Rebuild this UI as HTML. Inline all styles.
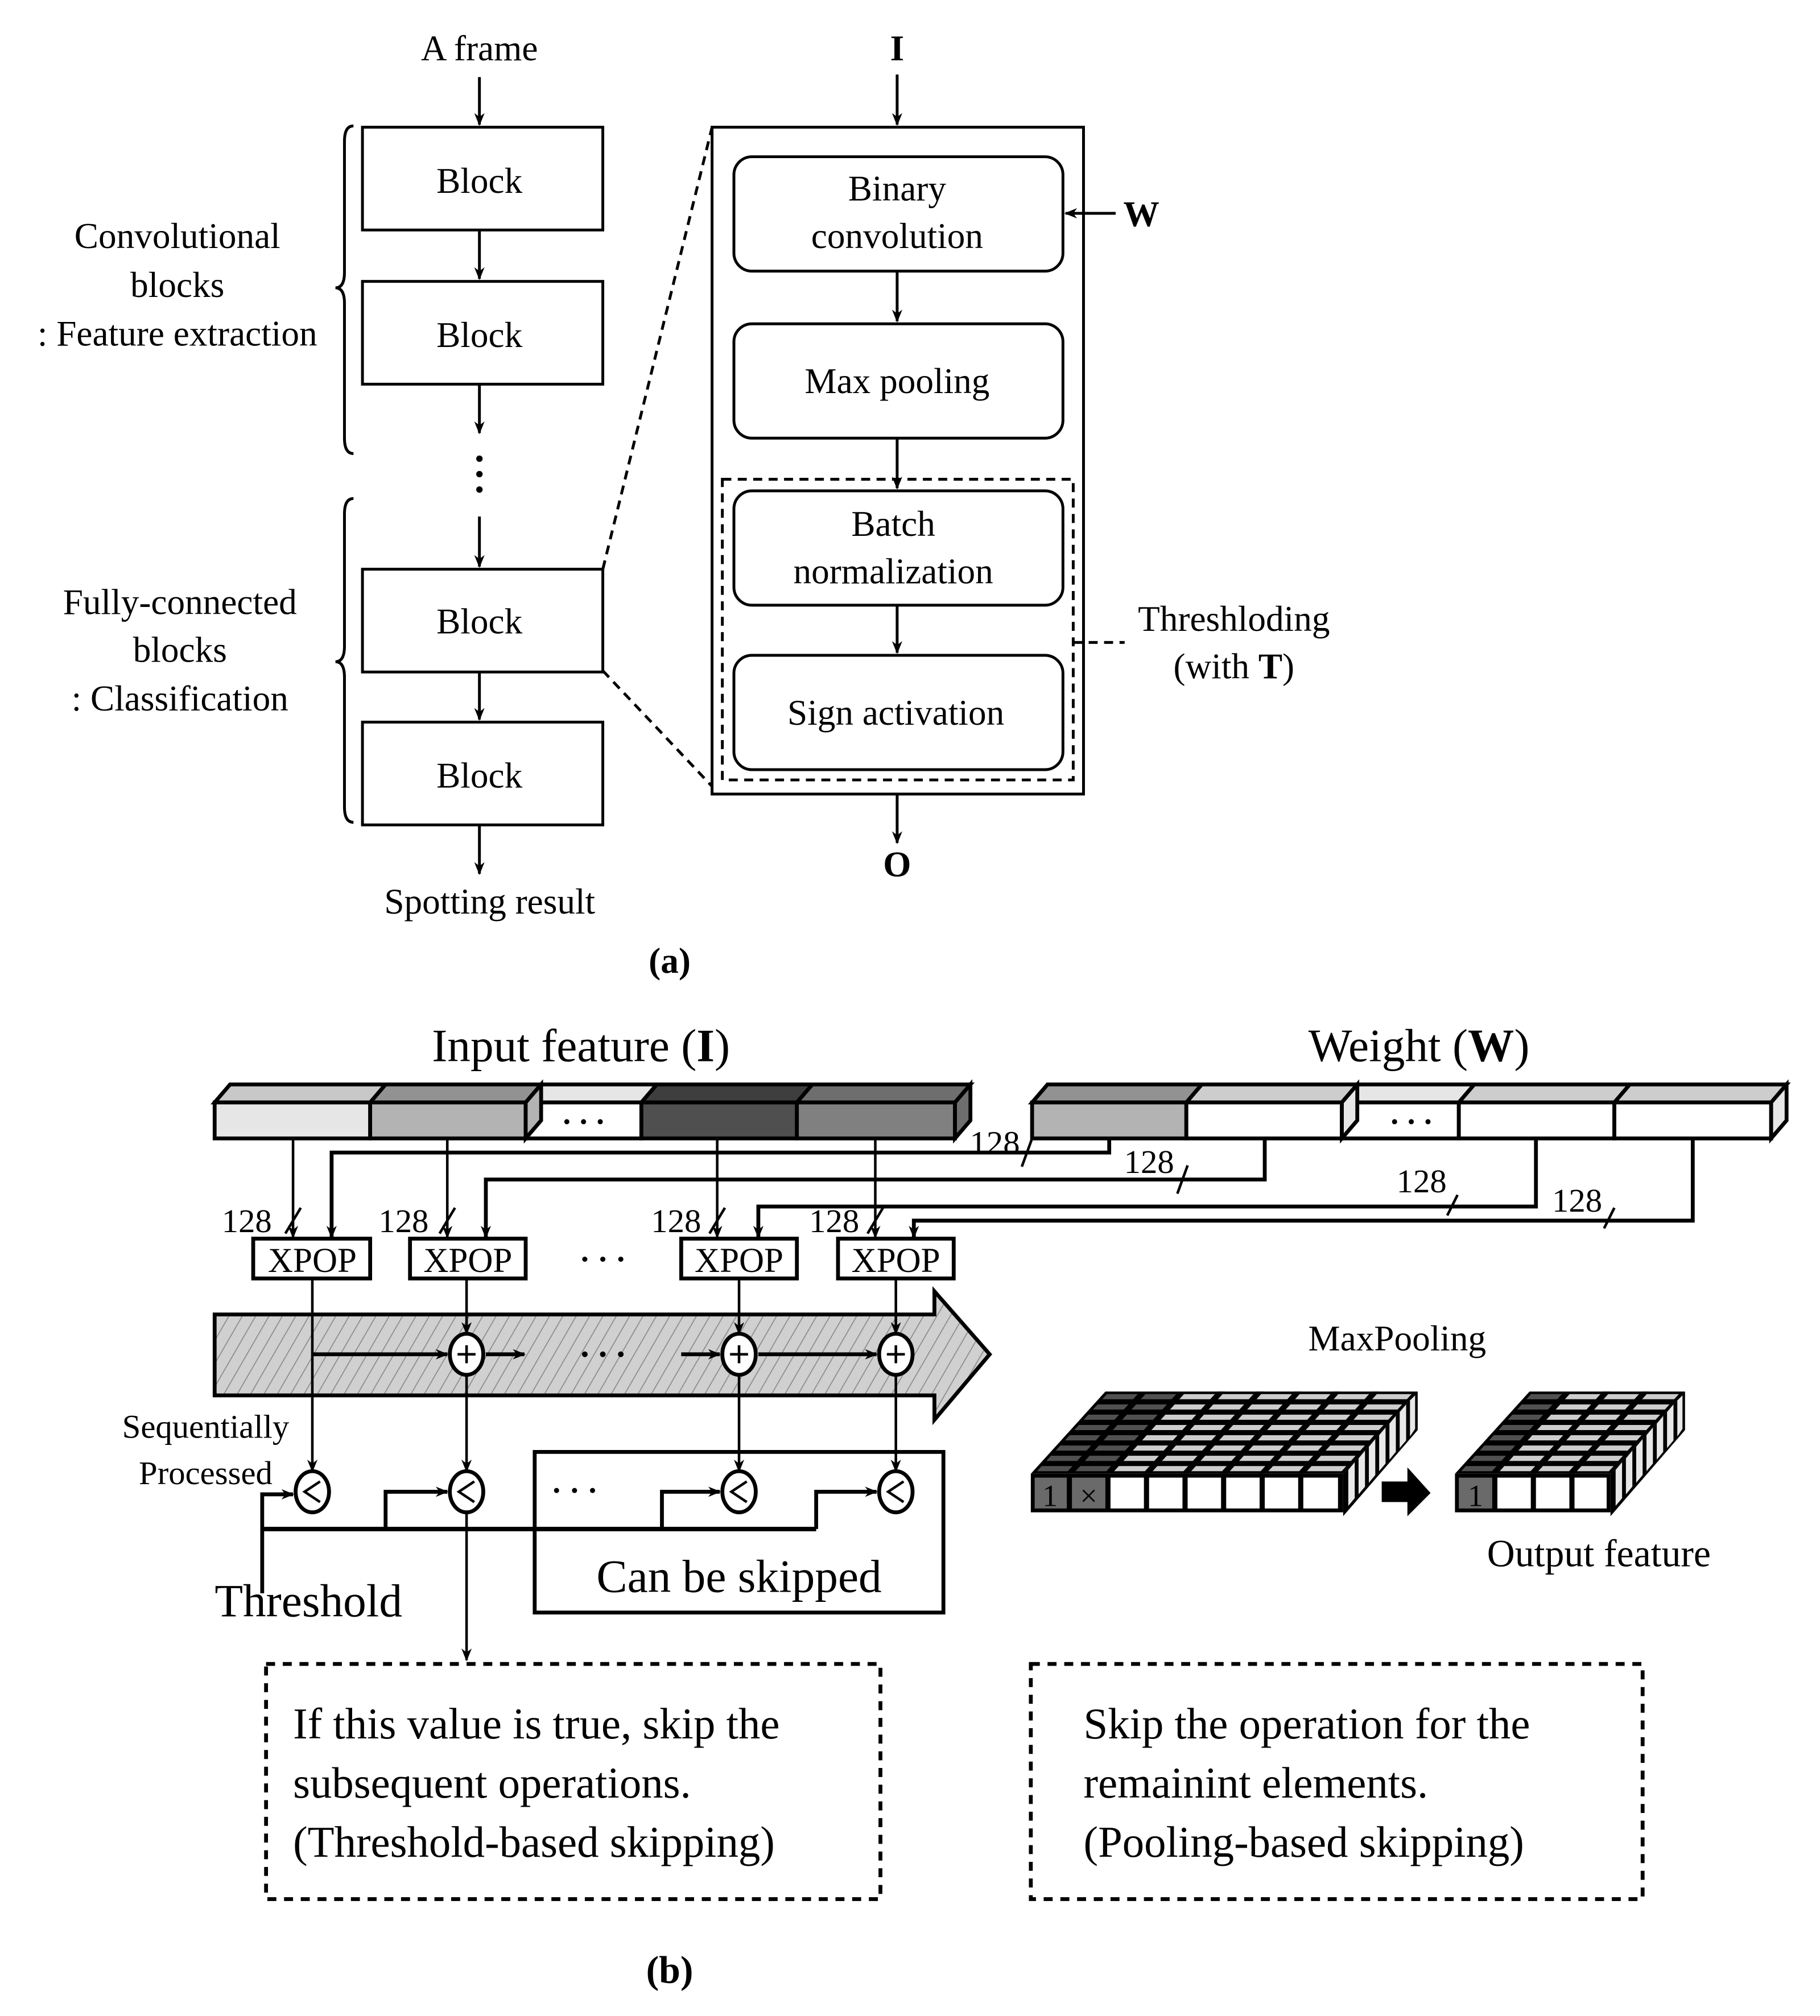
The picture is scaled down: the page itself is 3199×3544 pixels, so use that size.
<!DOCTYPE html>
<html><head><meta charset="utf-8"><style>
html,body{margin:0;padding:0;background:#fff;}
svg{display:block;}
text{font-family:"Liberation Serif",serif;fill:#000;}
</style></head><body>
<svg width="3199" height="3544" viewBox="0 0 1416 1569" preserveAspectRatio="none" xmlns="http://www.w3.org/2000/svg">
<defs>
<marker id="ar" markerWidth="10" markerHeight="10" refX="9" refY="5" orient="auto" markerUnits="userSpaceOnUse"><path d="M0,1 L10,5 L0,9 L3,5 Z" fill="#000"/></marker>
<pattern id="hatch" patternUnits="userSpaceOnUse" width="9" height="9" patternTransform="rotate(30)"><rect width="9" height="9" fill="#d0d0d0"/><line x1="0" y1="0" x2="0" y2="9" stroke="#8a8a8a" stroke-width="1.5"/></pattern>
</defs>
<g stroke="#000" fill="none" stroke-width="2.2">
<line x1="373" y1="60" x2="373" y2="97" marker-end="url(#ar)"/>
<rect x="282" y="99" width="187" height="80" fill="#fff"/>
<rect x="282" y="219" width="187" height="80" fill="#fff"/>
<rect x="282" y="443" width="187" height="80" fill="#fff"/>
<rect x="282" y="562" width="187" height="80" fill="#fff"/>
<line x1="373" y1="179" x2="373" y2="217" marker-end="url(#ar)"/>
<line x1="373" y1="299" x2="373" y2="337" marker-end="url(#ar)"/>
<line x1="373" y1="402" x2="373" y2="441" marker-end="url(#ar)"/>
<line x1="373" y1="523" x2="373" y2="560" marker-end="url(#ar)"/>
<line x1="373" y1="642" x2="373" y2="680" marker-end="url(#ar)"/>
<path d="M275,98 Q268,98 268,110 L268,212 Q268,224 261,224 Q268,224 268,236 L268,341 Q268,353 275,353"/>
<path d="M275,388 Q268,388 268,400 L268,503 Q268,515 261,515 Q268,515 268,527 L268,628 Q268,640 275,640"/>
<line x1="698" y1="58" x2="698" y2="97" marker-end="url(#ar)"/>
<rect x="554" y="99" width="289" height="519"/>
<rect x="571" y="122" width="256" height="89" rx="14"/>
<rect x="571" y="252" width="256" height="89" rx="14"/>
<rect x="571" y="382" width="256" height="89" rx="14"/>
<rect x="571" y="510" width="256" height="89" rx="14"/>
<rect x="562" y="373" width="273" height="234" stroke-dasharray="7,5"/>
<line x1="698" y1="211" x2="698" y2="250" marker-end="url(#ar)"/>
<line x1="698" y1="341" x2="698" y2="380" marker-end="url(#ar)"/>
<line x1="698" y1="471" x2="698" y2="508" marker-end="url(#ar)"/>
<line x1="698" y1="618" x2="698" y2="656" marker-end="url(#ar)"/>
<line x1="868" y1="166" x2="829" y2="166" marker-end="url(#ar)"/>
<line x1="835" y1="500" x2="875" y2="500" stroke-dasharray="7,5"/>
<line x1="469" y1="443" x2="554" y2="99" stroke-dasharray="7,5"/>
<line x1="469" y1="522" x2="554" y2="612" stroke-dasharray="7,5"/>
</g>
<g font-size="28" text-anchor="middle">
<text x="373" y="47">A frame</text>
<text x="373" y="150">Block</text>
<text x="373" y="270">Block</text>
<text x="373" y="493">Block</text>
<text x="373" y="613">Block</text>
<text x="381" y="711">Spotting result</text>
<text x="138" y="193">Convolutional</text>
<text x="138" y="231">blocks</text>
<text x="138" y="269">: Feature extraction</text>
<text x="140" y="478">Fully-connected</text>
<text x="140" y="515">blocks</text>
<text x="140" y="553">: Classification</text>
<text x="698" y="156">Binary</text>
<text x="698" y="193">convolution</text>
<text x="698" y="306">Max pooling</text>
<text x="695" y="417">Batch</text>
<text x="695" y="454">normalization</text>
<text x="697" y="564">Sign activation</text>
<text x="960" y="491">Threshloding</text>
<text x="960" y="528">(with <tspan font-weight="bold">T</tspan>)</text>
<text x="698" y="47" font-weight="bold">I</text>
<text x="698" y="682" font-weight="bold">O</text>
<text x="888" y="176" font-weight="bold">W</text>
<text x="521" y="757" font-weight="bold">(a)</text>
</g>
<g fill="#000"><circle cx="373" cy="357" r="2.5"/><circle cx="373" cy="369" r="2.5"/><circle cx="373" cy="381" r="2.5"/></g>

<g font-size="36" text-anchor="middle">
<text x="452" y="826">Input feature (<tspan font-weight="bold">I</tspan>)</text>
<text x="1104" y="826">Weight (<tspan font-weight="bold">W</tspan>)</text>
</g>
<g stroke="#000" stroke-width="3">
<polygon points="167,858 179,844 300,844 288,858" fill="#c8c8c8"/>
<polygon points="288,858 300,844 421,844 409,858" fill="#929292"/>
<polygon points="409,858 421,844 511,844 499,858" fill="#e6e6e6"/>
<polygon points="499,858 511,844 632,844 620,858" fill="#3e3e3e"/>
<polygon points="620,858 632,844 755,844 743,858" fill="#6e6e6e"/>
<rect x="167" y="858" width="121" height="28" fill="#e6e6e6"/>
<rect x="288" y="858" width="121" height="28" fill="#b3b3b3"/>
<rect x="409" y="858" width="90" height="28" fill="#fff"/>
<rect x="499" y="858" width="121" height="28" fill="#4f4f4f"/>
<rect x="620" y="858" width="123" height="28" fill="#808080"/>
<polygon points="409,858 421,844 421,872 409,886" fill="#b3b3b3"/>
<polygon points="743,858 755,844 755,872 743,886" fill="#6e6e6e"/>
</g>
<g stroke="#000" stroke-width="3">
<polygon points="803,858 815,844 935,844 923,858" fill="#929292"/>
<polygon points="923,858 935,844 1056,844 1044,858" fill="#cdcdcd"/>
<polygon points="1044,858 1056,844 1147,844 1135,858" fill="#e6e6e6"/>
<polygon points="1135,858 1147,844 1268,844 1256,858" fill="#cdcdcd"/>
<polygon points="1256,858 1268,844 1390,844 1378,858" fill="#cdcdcd"/>
<rect x="803" y="858" width="120" height="28" fill="#b3b3b3"/>
<rect x="923" y="858" width="121" height="28" fill="#fff"/>
<rect x="1044" y="858" width="91" height="28" fill="#fff"/>
<rect x="1135" y="858" width="121" height="28" fill="#fff"/>
<rect x="1256" y="858" width="122" height="28" fill="#fff"/>
<polygon points="1044,858 1056,844 1056,872 1044,886" fill="#e6e6e6"/>
<polygon points="1378,858 1390,844 1390,872 1378,886" fill="#e6e6e6"/>
</g>
<g fill="#000"><circle cx="441" cy="873" r="2"/><circle cx="454" cy="873" r="2"/><circle cx="467" cy="873" r="2"/>
<circle cx="1085" cy="873" r="2"/><circle cx="1098" cy="873" r="2"/><circle cx="1111" cy="873" r="2"/></g>
<g stroke="#000" fill="none" stroke-width="2">
<line x1="228" y1="886" x2="228" y2="963" marker-end="url(#ar)"/>
<line x1="348" y1="886" x2="348" y2="963" marker-end="url(#ar)"/>
<line x1="558" y1="886" x2="558" y2="963" marker-end="url(#ar)"/>
<line x1="681" y1="886" x2="681" y2="963" marker-end="url(#ar)"/>
<polyline points="863,886 863,897 258,897 258,963" stroke-width="3" marker-end="url(#ar)"/>
<polyline points="984,886 984,918 378,918 378,963" stroke-width="3" marker-end="url(#ar)"/>
<polyline points="1195,886 1195,939 590,939 590,963" stroke-width="3" marker-end="url(#ar)"/>
<polyline points="1317,886 1317,950 711,950 711,963" stroke-width="3" marker-end="url(#ar)"/>
<line x1="222" y1="960" x2="234" y2="940"/>
<line x1="342" y1="960" x2="354" y2="940"/>
<line x1="552" y1="960" x2="564" y2="940"/>
<line x1="675" y1="960" x2="687" y2="940"/>
<line x1="795" y1="908" x2="803" y2="886"/>
<line x1="916" y1="929" x2="924" y2="907"/>
<line x1="1126" y1="946" x2="1134" y2="930"/>
<line x1="1248" y1="956" x2="1256" y2="940"/>
</g>
<g font-size="26" text-anchor="middle">
<text x="192" y="959">128</text><text x="314" y="959">128</text><text x="526" y="959">128</text><text x="649" y="959">128</text>
<text x="774" y="898">128</text><text x="894" y="913">128</text><text x="1106" y="928">128</text><text x="1227" y="943">128</text>
</g>
<g stroke="#000" stroke-width="3" fill="#fff">
<rect x="197" y="964" width="91" height="31"/><rect x="319" y="964" width="90" height="31"/>
<rect x="530" y="964" width="90" height="31"/><rect x="652" y="964" width="90" height="31"/>
</g>
<g font-size="27" text-anchor="middle">
<text x="243" y="990">XPOP</text><text x="364" y="990">XPOP</text><text x="575" y="990">XPOP</text><text x="697" y="990">XPOP</text>
</g>
<g fill="#000"><circle cx="455" cy="980" r="2"/><circle cx="469" cy="980" r="2"/><circle cx="483" cy="980" r="2"/></g>
<polygon points="167,1023 727,1023 727,1005 770,1054 727,1105 727,1086 167,1086" fill="url(#hatch)" stroke="#000" stroke-width="3"/>
<g stroke="#000" fill="none" stroke-width="2">
<line x1="243" y1="995" x2="243" y2="1145" marker-end="url(#ar)"/>
<line x1="363" y1="995" x2="363" y2="1038" marker-end="url(#ar)"/>
<line x1="575" y1="995" x2="575" y2="1038" marker-end="url(#ar)"/>
<line x1="697" y1="995" x2="697" y2="1038" marker-end="url(#ar)"/>
<line x1="243" y1="1054" x2="348" y2="1054" stroke-width="3" marker-end="url(#ar)"/>
<line x1="378" y1="1054" x2="408" y2="1054" stroke-width="3" marker-end="url(#ar)"/>
<line x1="530" y1="1054" x2="560" y2="1054" stroke-width="3" marker-end="url(#ar)"/>
<line x1="590" y1="1054" x2="682" y2="1054" stroke-width="3" marker-end="url(#ar)"/>
<line x1="363" y1="1070" x2="363" y2="1145" marker-end="url(#ar)"/>
<line x1="575" y1="1070" x2="575" y2="1145" marker-end="url(#ar)"/>
<line x1="697" y1="1070" x2="697" y2="1145" marker-end="url(#ar)"/>
<line x1="363" y1="1177" x2="363" y2="1292" marker-end="url(#ar)"/>
<polyline points="204,1240 204,1163 228,1163" stroke-width="3" marker-end="url(#ar)"/>
<polyline points="204,1190 635,1190" stroke-width="3.5"/>
<polyline points="300,1190 300,1161 348,1161" stroke-width="3" marker-end="url(#ar)"/>
<polyline points="515,1190 515,1161 560,1161" stroke-width="3" marker-end="url(#ar)"/>
<polyline points="635,1190 635,1161 682,1161" stroke-width="3" marker-end="url(#ar)"/>
<rect x="416" y="1130" width="318" height="125" stroke-width="3"/>
</g>
<g stroke="#000" stroke-width="3" fill="#fff">
<ellipse cx="363" cy="1054" rx="13" ry="16"/><ellipse cx="575" cy="1054" rx="13" ry="16"/><ellipse cx="697" cy="1054" rx="13" ry="16"/>
<ellipse cx="243" cy="1161" rx="13" ry="16"/><ellipse cx="363" cy="1161" rx="13" ry="16"/><ellipse cx="575" cy="1161" rx="13" ry="16"/><ellipse cx="697" cy="1161" rx="13" ry="16"/>
</g>
<g stroke="#000" stroke-width="2" fill="none">
<path d="M356,1054 h14 M363,1047 v14 M568,1054 h14 M575,1047 v14 M690,1054 h14 M697,1047 v14"/>
<path d="M249,1153 L237,1161 L249,1169 M369,1153 L357,1161 L369,1169 M581,1153 L569,1161 L581,1169 M703,1153 L691,1161 L703,1169"/>
</g>
<g fill="#000"><circle cx="455" cy="1054" r="2.2"/><circle cx="469" cy="1054" r="2.2"/><circle cx="483" cy="1054" r="2.2"/>
<circle cx="433" cy="1160" r="2"/><circle cx="447" cy="1160" r="2"/><circle cx="461" cy="1160" r="2"/></g>
<g font-size="26" text-anchor="middle">
<text x="160" y="1119">Sequentially</text>
<text x="160" y="1155">Processed</text>
</g>
<g font-size="36" text-anchor="middle">
<text x="240" y="1258">Threshold</text>
<text x="575" y="1239">Can be skipped</text>
</g>
<g stroke="#000" stroke-width="3" fill="none" stroke-dasharray="7,6">
<rect x="207" y="1295" width="478" height="183"/>
<rect x="802" y="1295" width="476" height="183"/>
</g>
<g font-size="34">
<text x="228" y="1353">If this value is true, skip the</text>
<text x="228" y="1399">subsequent operations.</text>
<text x="228" y="1445">(Threshold-based skipping)</text>
<text x="843" y="1353">Skip the operation for the</text>
<text x="843" y="1399">remainint elements.</text>
<text x="843" y="1445">(Pooling-based skipping)</text>
</g>
<text x="521" y="1543" font-size="30" font-weight="bold" text-anchor="middle">(b)</text>
<text x="1087" y="1051" font-size="28" text-anchor="middle">MaxPooling</text>
<text x="1244" y="1219" font-size="30" text-anchor="middle">Output feature</text>

<!-- cube 1 -->
<polygon points="1045,1147 1103,1083 1103,1113 1045,1180" fill="#000"/>
<g fill="#e8e8e8">
<polygon points="1049,1144 1054,1138 1054,1166 1049,1172"/>
<polygon points="1057,1135 1062,1129 1062,1157 1057,1163"/>
<polygon points="1065,1126 1070,1120 1070,1148 1065,1154"/>
<polygon points="1073,1117 1078,1111 1078,1139 1073,1145"/>
<polygon points="1081,1108 1086,1102 1086,1130 1081,1136"/>
<polygon points="1089,1099 1094,1093 1094,1121 1089,1127"/>
<polygon points="1097,1090 1101,1086 1101,1112 1097,1118"/>
</g>
<g transform="matrix(1,0,7.25,-8,802,1147)">
<rect x="0" y="0" width="243" height="8" fill="#000"/>
<g fill="#505050">
<rect x="3" y="0.25" width="24" height="0.5"/><rect x="33" y="0.25" width="24" height="0.5"/>
<rect x="3" y="1.25" width="24" height="0.5"/><rect x="33" y="1.25" width="24" height="0.5"/>
<rect x="3" y="2.25" width="24" height="0.5"/><rect x="33" y="2.25" width="24" height="0.5"/>
<rect x="3" y="3.25" width="24" height="0.5"/><rect x="33" y="3.25" width="24" height="0.5"/>
<rect x="3" y="4.25" width="24" height="0.5"/><rect x="33" y="4.25" width="24" height="0.5"/>
<rect x="3" y="5.25" width="24" height="0.5"/><rect x="33" y="5.25" width="24" height="0.5"/>
<rect x="3" y="6.25" width="24" height="0.5"/><rect x="33" y="6.25" width="24" height="0.5"/>
<rect x="3" y="7.25" width="24" height="0.5"/><rect x="33" y="7.25" width="24" height="0.5"/>
</g>
<g fill="#cdcdcd">
<rect x="63" y="0.25" width="177" height="0.5"/>
<rect x="63" y="1.25" width="177" height="0.5"/>
<rect x="63" y="2.25" width="177" height="0.5"/>
<rect x="63" y="3.25" width="177" height="0.5"/>
<rect x="63" y="4.25" width="177" height="0.5"/>
<rect x="63" y="5.25" width="177" height="0.5"/>
<rect x="63" y="6.25" width="177" height="0.5"/>
<rect x="63" y="7.25" width="177" height="0.5"/>
</g>
<g fill="#000">
<rect x="87" y="0" width="6" height="8"/><rect x="117" y="0" width="6" height="8"/><rect x="147" y="0" width="6" height="8"/><rect x="177" y="0" width="6" height="8"/><rect x="207" y="0" width="6" height="8"/>
</g>
</g>
<rect x="802" y="1147" width="243" height="30" fill="#000"/>
<rect x="805" y="1150" width="25" height="24" fill="#6a6a6a"/>
<rect x="834" y="1150" width="26" height="24" fill="#6a6a6a"/>
<g fill="#fff"><rect x="864" y="1150" width="26" height="24"/><rect x="894" y="1150" width="26" height="24"/><rect x="924" y="1150" width="26" height="24"/><rect x="954" y="1150" width="26" height="24"/><rect x="984" y="1150" width="26" height="24"/><rect x="1014" y="1150" width="27" height="24"/></g>
<text x="817" y="1172" font-size="24" text-anchor="middle">1</text>
<text x="847" y="1172" font-size="24" text-anchor="middle">×</text>
<polygon points="1075,1153 1095,1153 1095,1142 1113,1162 1095,1180 1095,1169 1075,1169" fill="#000"/>
<!-- cube 2 -->
<polygon points="1253,1147 1311,1083 1311,1113 1253,1180" fill="#000"/>
<g fill="#e8e8e8">
<polygon points="1257,1144 1262,1138 1262,1166 1257,1172"/>
<polygon points="1265,1135 1270,1129 1270,1157 1265,1163"/>
<polygon points="1273,1126 1278,1120 1278,1148 1273,1154"/>
<polygon points="1281,1117 1286,1111 1286,1139 1281,1145"/>
<polygon points="1289,1108 1294,1102 1294,1130 1289,1136"/>
<polygon points="1297,1099 1302,1093 1302,1121 1297,1127"/>
<polygon points="1305,1090 1309,1086 1309,1112 1305,1118"/>
</g>
<g transform="matrix(1,0,7.25,-8,1132,1147)">
<rect x="0" y="0" width="121" height="8" fill="#000"/>
<g fill="#505050">
<rect x="3" y="0.25" width="24" height="0.5"/><rect x="3" y="1.25" width="24" height="0.5"/><rect x="3" y="2.25" width="24" height="0.5"/><rect x="3" y="3.25" width="24" height="0.5"/><rect x="3" y="4.25" width="24" height="0.5"/><rect x="3" y="5.25" width="24" height="0.5"/><rect x="3" y="6.25" width="24" height="0.5"/><rect x="3" y="7.25" width="24" height="0.5"/>
</g>
<g fill="#cdcdcd">
<rect x="33" y="0.25" width="85" height="0.5"/><rect x="33" y="1.25" width="85" height="0.5"/><rect x="33" y="2.25" width="85" height="0.5"/><rect x="33" y="3.25" width="85" height="0.5"/><rect x="33" y="4.25" width="85" height="0.5"/><rect x="33" y="5.25" width="85" height="0.5"/><rect x="33" y="6.25" width="85" height="0.5"/><rect x="33" y="7.25" width="85" height="0.5"/>
</g>
<g fill="#000"><rect x="57" y="0" width="6" height="8"/><rect x="87" y="0" width="6" height="8"/></g>
</g>
<rect x="1132" y="1147" width="121" height="30" fill="#000"/>
<rect x="1135" y="1150" width="26" height="24" fill="#6a6a6a"/>
<g fill="#fff"><rect x="1165" y="1150" width="26" height="24"/><rect x="1195" y="1150" width="26" height="24"/><rect x="1225" y="1150" width="25" height="24"/></g>
<text x="1148" y="1172" font-size="24" text-anchor="middle">1</text>
</svg>
</body></html>
